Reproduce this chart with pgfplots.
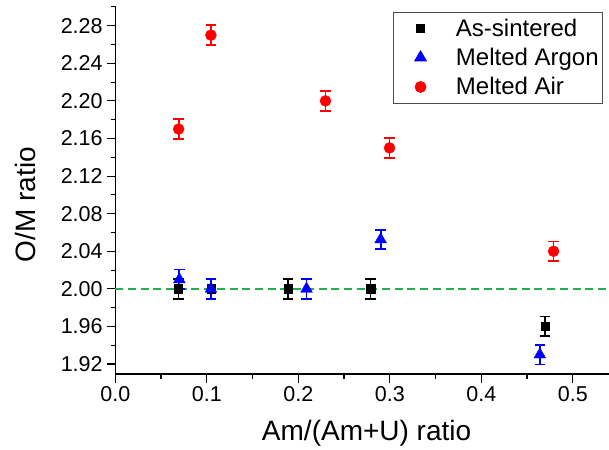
\documentclass[border=0pt]{standalone}
\usepackage{pgfplots}
\pgfplotsset{compat=1.18}
\usepackage{fontspec}
\setmainfont{Liberation Sans}
\definecolor{lgreen}{RGB}{34,175,80}
\pgfplotsset{myleg/.style={legend image code/.code={\path (0bp,0bp) (58bp,0bp); \draw[##1] plot coordinates {(25bp,0bp)};}}}
\begin{document}
\begin{tikzpicture}
\begin{axis}[
  name=ax,
  at={(0,0)}, anchor=south west,
  scale only axis,
  width=493.7bp, height=368bp,
  xmin=0, xmax=0.5396, ymin=1.9094, ymax=2.301,
  axis x line*=bottom, axis y line*=left,
  axis line style={line width=1.5pt, -},
  xtick={0,0.1,0.2,0.3,0.4,0.5},
  minor xtick={0.05,0.15,0.25,0.35,0.45},
  ytick={1.92,1.96,2.00,2.04,2.08,2.12,2.16,2.20,2.24,2.28},
  minor ytick={1.94,1.98,2.02,2.06,2.10,2.14,2.18,2.22,2.26,2.30},
  tick align=outside,
  major tick length=8.5bp, minor tick length=4.5bp,
  tick style={line width=1.1pt, black},
  /pgf/number format/assume math mode=true,
  xticklabel style={/pgf/number format/.cd, fixed, fixed zerofill, precision=1},
  yticklabel style={/pgf/number format/.cd, fixed, fixed zerofill, precision=2},
  ticklabel style={font=\fontsize{21.5bp}{24bp}\selectfont, inner sep=4bp},
  xlabel={Am/(Am+U) ratio}, ylabel={O/M ratio},
  label style={font=\fontsize{28bp}{32bp}\selectfont},
  xlabel style={at={(axis description cs:0.509,0)}, anchor=base, yshift=-66bp},
  ylabel style={at={(axis description cs:-0.1626,0.46)}, anchor=base},
  legend style={at={(0.988,0.984)}, anchor=north east, draw=black!70, line width=0.8pt,
    font=\fontsize{24bp}{28bp}\selectfont, row sep=6.5bp, inner xsep=2bp, inner ysep=4.5bp},
  legend cell align=left,
  clip=false,
]
\addplot[dashed, color=lgreen, line width=2.7pt, dash pattern=on 8bp off 4.7bp, forget plot] coordinates {(0,2.00) (0.5396,2.00)};
\addplot[only marks, mark=square*, mark size=4.2bp, black, myleg,
  error bars/.cd, y dir=both, y explicit, error mark=-, error mark options={line width=1.8pt, mark size=5.2bp, rotate=90},
  error bar style={line width=1.8pt}]
  table[x=x, y=y, y error=e] {
x y e
0.069 2.00 0.0105
0.1045 2.00 0.0105
0.189 2.00 0.0105
0.279 2.00 0.0105
0.4696 1.96 0.0105
};
\addlegendentry{As-sintered}
\addplot[only marks, mark=triangle*, mark size=6.8bp, blue, myleg,
  error bars/.cd, y dir=both, y explicit, error mark=-, error mark options={line width=1.8pt, mark size=5.2bp, rotate=90},
  error bar style={line width=1.8pt}]
  table[x=x, y=y, y error=e] {
x y e
0.07 2.01 0.0105
0.1045 2.00 0.0105
0.209 2.00 0.0105
0.290 2.0525 0.0105
0.464 1.93 0.0105
};
\addlegendentry{Melted Argon}
\addplot[only marks, mark=*, mark size=5.5bp, red, myleg,
  error bars/.cd, y dir=both, y explicit, error mark=-, error mark options={line width=1.8pt, mark size=5.2bp, rotate=90},
  error bar style={line width=1.8pt}]
  table[x=x, y=y, y error=e] {
x y e
0.0692 2.17 0.0105
0.1045 2.27 0.0105
0.2297 2.20 0.0105
0.2997 2.15 0.0105
0.479 2.04 0.0105
};
\addlegendentry{Melted Air}
\end{axis}
\pgfresetboundingbox
\path[use as bounding box] (-115.3bp,-76bp) rectangle (493.7bp,374bp);
\end{tikzpicture}
\end{document}
